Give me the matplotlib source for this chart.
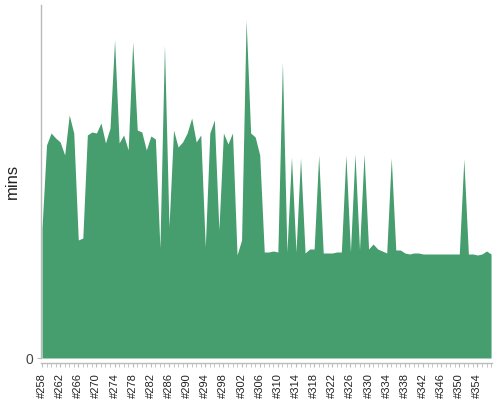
import matplotlib
matplotlib.use("Agg")
import matplotlib.pyplot as plt
from matplotlib.ticker import MultipleLocator

builds = list(range(258, 358))
mins = [
    13.0, 21.3, 22.5, 22.0, 21.6, 20.3, 24.3, 22.5, 11.8, 12.0,   # 258-267
    22.3, 22.6, 22.5, 23.5, 21.5, 23.0, 31.8, 21.5, 22.3, 20.8,   # 268-277
    31.6, 22.8, 22.6, 20.8, 22.2, 21.9, 11.0, 31.3, 13.1, 22.8,   # 278-287
    21.1, 21.6, 22.5, 24.0, 21.6, 22.3, 11.1, 22.5, 23.8, 12.8,   # 288-297
    22.5, 21.4, 22.5, 10.3, 11.8, 33.8, 22.5, 22.1, 20.3, 10.6,   # 298-307
    10.6, 10.7, 10.6, 29.6, 10.6, 20.1, 10.6, 20.0, 10.5, 10.9,   # 308-317
    10.9, 20.3, 10.5, 10.5, 10.5, 10.6, 10.6, 20.3, 10.6, 20.4,   # 318-327
    10.8, 20.4, 10.9, 11.4, 10.9, 10.7, 10.5, 20.0, 10.8, 10.8,   # 328-337
    10.5, 10.4, 10.5, 10.5, 10.4, 10.4, 10.4, 10.4, 10.4, 10.4,   # 338-347
    10.4, 10.4, 10.4, 19.9, 10.4, 10.4, 10.3, 10.4, 10.7, 10.4,   # 348-357
]
y_label = "mins"

plt.rcParams["font.family"] = ["Liberation Sans", "DejaVu Sans"]

green = "#469d6e"
axis_grey = "#bbbbbb"
text_grey = "#444444"

fig = plt.figure(figsize=(5, 4), dpi=100)
ax = fig.add_axes([40.5 / 500, 1 - 358 / 400, 451 / 500, 353 / 400])

ax.fill_between(builds, mins, 0, color=green, linewidth=0)

ax.set_xlim(257.67, 357.1)
ax.set_ylim(0, 35.3)

for s in ("top", "right"):
    ax.spines[s].set_visible(False)
ax.spines["left"].set_color(axis_grey)
ax.spines["left"].set_linewidth(1)
ax.spines["bottom"].set_color(axis_grey)
ax.spines["bottom"].set_linewidth(1)
ax.spines["bottom"].set_position(("outward", 3.8))

ax.set_yticks([0])
ax.set_yticklabels(["0"])
ax.tick_params(axis="y", length=3, color=axis_grey, labelcolor=text_grey,
               labelsize=10, pad=2)

ax.xaxis.set_minor_locator(MultipleLocator(1))
ax.set_xticks(builds[::4])
ax.set_xticklabels(["#%d" % b for b in builds[::4]], rotation=90)
ax.tick_params(axis="x", which="both", length=3, color=axis_grey,
               labelcolor="#222222", labelsize=8, pad=4)

ax.set_ylabel(y_label, fontsize=12, color="#222222")
ax.yaxis.set_label_coords(-0.045, 0.5)

fig.savefig("out.png", dpi=100)
